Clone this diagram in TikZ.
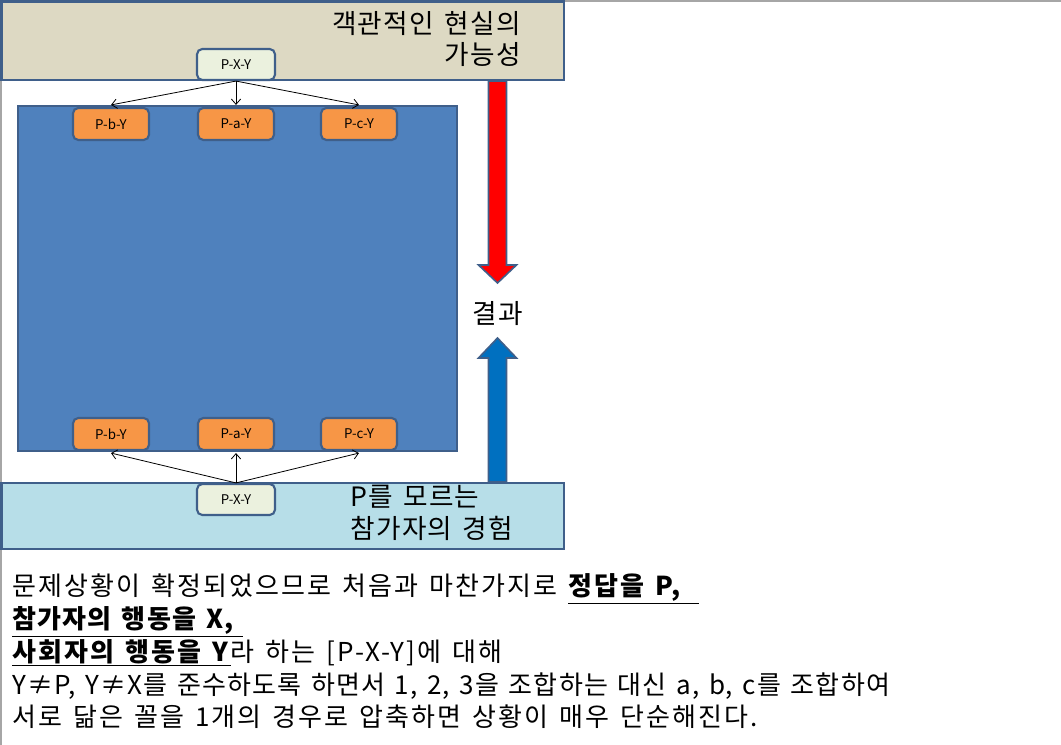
\documentclass[tikz,border=0pt]{standalone}
\usepackage{fontspec}
\setmainfont{Noto Sans CJK KR}[LetterSpace=5, WordSpace=1.4]
\newfontfamily\smallfam{Noto Sans CJK KR}
\usetikzlibrary{arrows.meta}
\definecolor{frameline}{HTML}{A6A6A6}
\definecolor{edgeblue}{HTML}{3F5F8A}
\definecolor{tanfill}{HTML}{DDD9C3}
\definecolor{bigblue}{HTML}{4F81BD}
\definecolor{orangefill}{HTML}{F79646}
\definecolor{paleg}{HTML}{EBF1DE}
\definecolor{lightcyan}{HTML}{B7DEE8}
\definecolor{arrowblue}{HTML}{0070C0}
\tikzset{
  band/.style={draw=edgeblue, line width=2.2pt},
  obox/.style={draw=edgeblue, line width=1.6pt, fill=orangefill, rounded corners=4pt,
    minimum width=57pt, minimum height=24pt, inner sep=0pt, font=\smallfam\fontsize{10}{11}\selectfont},
  gbox/.style={draw=edgeblue, line width=1.6pt, fill=paleg, rounded corners=4pt,
    minimum width=58.5pt, minimum height=23.25pt, inner sep=0pt, font=\smallfam\fontsize{10}{11}\selectfont},
  conn/.style={draw=black, line width=0.6pt, -{Straight Barb[length=4pt,width=7pt]}},
  bigtxt/.style={font=\fontsize{20}{24}\selectfont, inner sep=0pt},
  bodytxt/.style={font=\fontsize{19.5}{23}\selectfont, inner sep=0pt, anchor=base west},
  widetxt/.style={font=\fontsize{19.5}{23}\selectfont\addfontfeatures{LetterSpace=8}, inner sep=0pt, anchor=base west},
  narrowtxt/.style={font=\fontsize{19.5}{23}\selectfont\addfontfeatures{LetterSpace=4.3}, inner sep=0pt, anchor=base west},
  fatarrow/.style={draw=edgeblue, line width=1.2pt, line join=miter},
}
\newcommand{\ul}[1]{\underline{#1}}
\begin{document}
\begin{tikzpicture}[x=0.75pt,y=-0.75pt]
\useasboundingbox (0,0) rectangle (1061,745);
\fill[white] (0,0) rectangle (1061,745);
% slide frame lines
\draw[frameline, line width=1.2pt] (565,0.8) -- (1061,0.8);
\draw[frameline, line width=1.2pt] (0.8,80) -- (0.8,745);
% top band
\draw[band, fill=tanfill] (1.5,1.5) rectangle (564,80);
\node[bigtxt, anchor=base east] (t1) at (521,34) {객관적인 현실의};
\node[bigtxt, anchor=base east] (t2) at (521,65) {가능성};
% bottom band
\draw[band, fill=lightcyan] (1.5,483) rectangle (564,549);
\node[bigtxt, anchor=base west] (b1) at (350,506) {P를 모르는};
\node[bigtxt, anchor=base west] (b2) at (350,538) {참가자의 경험};
% big blue box
\draw[draw=edgeblue, line width=1.8pt, fill=bigblue] (18,106) rectangle (457,451);
% nodes
\node[gbox] (pxyT) at (236,64.5) {P-X-Y};
\node[obox] (pbT) at (111,124) {P-b-Y};
\node[obox] (paT) at (236,124) {P-a-Y};
\node[obox] (pcT) at (359,124) {P-c-Y};
\node[obox] (pbB) at (111,434) {P-b-Y};
\node[obox] (paB) at (236,434) {P-a-Y};
\node[obox] (pcB) at (359,434) {P-c-Y};
\node[gbox] (pxyB) at (236,499.5) {P-X-Y};
% connectors
\draw[conn] (pxyT.south) -- ([yshift=1.5pt]pbT.north);
\draw[conn] (pxyT.south) -- ([yshift=1.5pt]paT.north);
\draw[conn] (pxyT.south) -- ([yshift=1.5pt]pcT.north);
\draw[conn] (pxyB.north) -- ([yshift=-1.5pt]pbB.south);
\draw[conn] (pxyB.north) -- ([yshift=-1.5pt]paB.south);
\draw[conn] (pxyB.north) -- ([yshift=-1.5pt]pcB.south);
% fat arrows
\draw[fatarrow, fill=red] (488.5,81) -- (506.5,81) -- (506.5,265) -- (516.5,265) -- (497.5,283) -- (478.5,265) -- (488.5,265) -- cycle;
\draw[fatarrow, fill=arrowblue] (488.5,482) -- (506.5,482) -- (506.5,358) -- (516.5,358) -- (497.5,338) -- (478.5,358) -- (488.5,358) -- cycle;
\node[bigtxt] (res) at (498,314) {결과};
% body text
\node[widetxt] (l1) at (12,595) {문제상황이 확정되었으므로 처음과 마찬가지로 \ul{\textbf{정답을 P,}\hspace*{12pt}}};
\node[bodytxt] (l2) at (12,628) {\ul{\textbf{참가자의 행동을 X,}\hspace*{6pt}}};
\node[widetxt] (l3) at (12,661) {\ul{\textbf{사회자의 행동을 Y}}라 하는 [P-X-Y]에 대해};
\node[narrowtxt] (l4) at (12,694) {Y≠P, Y≠X를 준수하도록 하면서 1, 2, 3을 조합하는 대신 a, b, c를 조합하여};
\node[widetxt] (l5) at (12,726) {서로 닮은 꼴을 1개의 경우로 압축하면 상황이 매우 단순해진다.};
\end{tikzpicture}
\end{document}
